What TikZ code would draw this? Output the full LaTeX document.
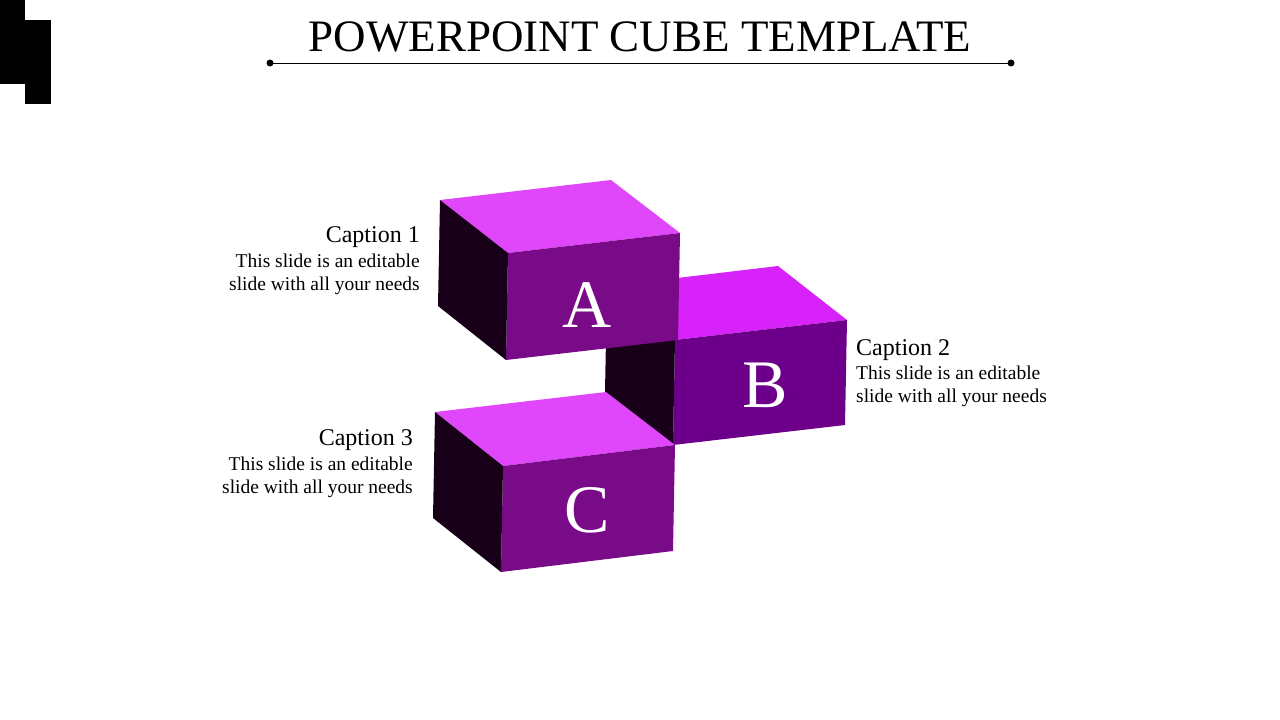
\documentclass[tikz,border=0pt]{standalone}
\usepackage{fontspec}
\setmainfont{Liberation Serif}
\definecolor{topA}{HTML}{E046FA}
\definecolor{topB}{HTML}{D822FA}
\definecolor{frA}{HTML}{790A88}
\definecolor{frB}{HTML}{6C008A}
\definecolor{side}{HTML}{170018}
\tikzset{captxt/.style={inner sep=0pt,font=\fontsize{24}{26}\selectfont},
body/.style={inner sep=0pt,font=\fontsize{19.5}{23}\selectfont,align=right},
letter/.style={text=white,font=\fontsize{68}{70}\selectfont}}
\begin{document}
\begin{tikzpicture}[x=1pt,y=-1pt]
\useasboundingbox (0,0) rectangle (1280,720);
\fill[black] (0,0) rectangle (25,84);
\fill[black] (25,20) rectangle (51,104);
\node[font=\fontsize{45}{50}\selectfont] (title) at (640,37) {POWERPOINT CUBE TEMPLATE};
\coordinate (l1) at (270,63); \coordinate (l2) at (1011,63);
\draw[line width=0.8pt] (l1) -- (l2);
\fill (l1) circle (3.5); \fill (l2) circle (3.5);
% cube B
\fill[topB] (610,286) -- (778,266) -- (847,320) -- (675,340) -- cycle;
\fill[frB] (675,340) -- (847,320) -- (845,425) -- (673,445) -- cycle;
\fill[side] (607,286) -- (675,340) -- (673,445) -- (605,392) -- cycle;
\node[letter] (B) at (765,385) {B};
% cube A
\fill[topA] (440,200) -- (611,180) -- (680,233) -- (508,253) -- cycle;
\fill[frA] (508,253) -- (680,233) -- (678,340) -- (506,360) -- cycle;
\fill[side] (440,200) -- (508,253) -- (506,360) -- (438,306) -- cycle;
\node[letter] (A) at (587,305) {A};
% cube C
\fill[topA] (435,412) -- (606,392) -- (675,445) -- (503,466) -- cycle;
\fill[frA] (503,466) -- (675,445) -- (673,551) -- (501,572) -- cycle;
\fill[side] (435,412) -- (503,466) -- (501,572) -- (433,518) -- cycle;
\node[letter] (C) at (587,510) {C};
% captions
\node[captxt,anchor=east] (c1) at (420,237) {Caption 1};
\node[body,anchor=north east] (b1) at (420,254) {This slide is an editable\\slide with all your needs};
\node[captxt,anchor=west] (c2) at (856,350) {Caption 2};
\node[body,anchor=north west,align=left] (b2) at (856,366) {This slide is an editable\\slide with all your needs};
\node[captxt,anchor=east] (c3) at (413,440) {Caption 3};
\node[body,anchor=north east] (b3) at (413,457) {This slide is an editable\\slide with all your needs};
\end{tikzpicture}
\end{document}
